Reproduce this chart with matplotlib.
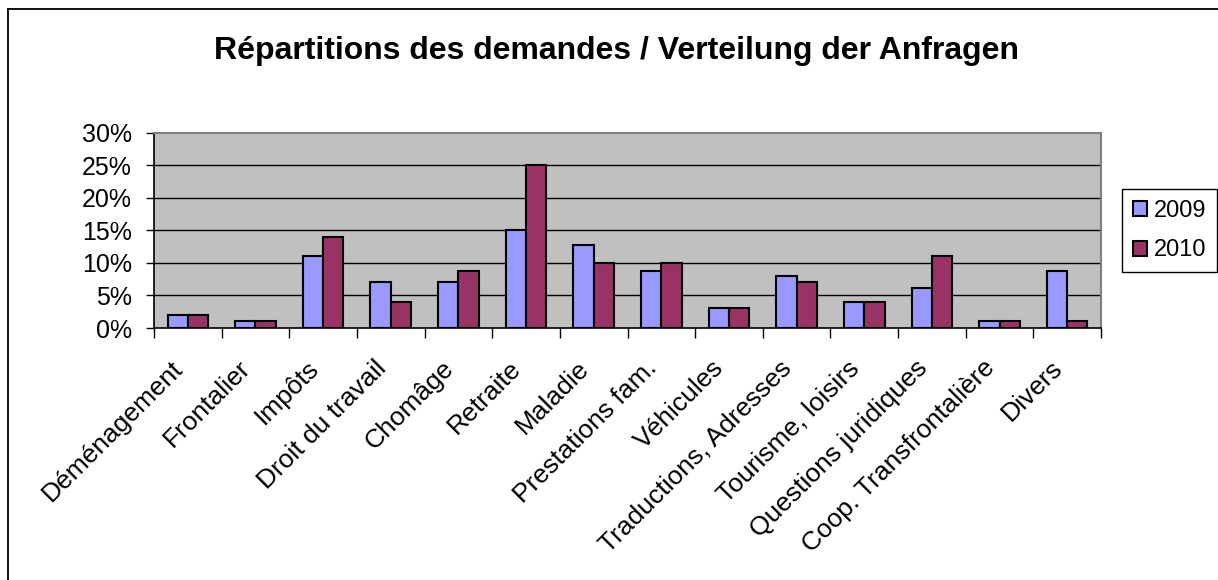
import matplotlib
matplotlib.use("Agg")
import matplotlib.pyplot as plt
import numpy as np
from matplotlib.lines import Line2D
from matplotlib.ticker import PercentFormatter, FixedLocator
from matplotlib.transforms import ScaledTranslation

categories = ["Déménagement", "Frontalier", "Impôts", "Droit du travail", "Chomâge",
              "Retraite", "Maladie", "Prestations fam.", "Véhicules",
              "Traductions, Adresses", "Tourisme, loisirs", "Questions juridiques",
              "Coop. Transfrontalière", "Divers"]
values_2009 = [2, 1, 11, 7, 7, 15, 12.8, 8.8, 3, 8, 4, 6.1, 1, 8.8]
values_2010 = [2, 1, 14, 4, 8.8, 25, 10, 10, 3, 7, 4, 11, 1, 1]
series_labels = ["2009", "2010"]
yticks = [0, 5, 10, 15, 20, 25, 30]

plt.rcParams['font.family'] = ['Liberation Sans', 'DejaVu Sans']

W, H = 1218, 580
fig = plt.figure(figsize=(W / 100, H / 100), dpi=100)
fig.patch.set_facecolor("white")

left, right, top, bottom = 154, 1101, 132.5, 328
ax = fig.add_axes([left / W, 1 - bottom / H, (right - left) / W, (bottom - top) / H])
ax.set_facecolor("#C0C0C0")

x = np.arange(len(categories))
bw = 0.3
ax.bar(x - bw / 2, values_2009, bw, color="#9999FF", edgecolor="black", linewidth=1.5,
       label=series_labels[0], zorder=3)
ax.bar(x + bw / 2, values_2010, bw, color="#993366", edgecolor="black", linewidth=1.5,
       label=series_labels[1], zorder=3)

ax.set_xlim(-0.5, len(categories) - 0.5)
ax.set_ylim(0, 30)
ax.set_yticks(yticks)
ax.yaxis.set_major_formatter(PercentFormatter(decimals=0))
ax.tick_params(axis="y", direction="out", length=6, width=1, pad=10, labelsize=18)
for yv in yticks[1:-1]:
    ax.axhline(yv, color="black", linewidth=1, zorder=1)

ax.xaxis.set_major_locator(FixedLocator(np.arange(-0.5, len(categories), 1.0)))
ax.xaxis.set_minor_locator(FixedLocator(x))
ax.set_xticklabels([], minor=False)
ax.set_xticklabels(categories, minor=True, rotation=45, ha="right", va="top",
                   rotation_mode="anchor", fontsize=19)
ax.tick_params(axis="x", which="major", direction="out", length=7, width=1)
ax.tick_params(axis="x", which="minor", length=0, pad=20)
offset = ScaledTranslation(-17 / 100, 0, fig.dpi_scale_trans)
for lab in ax.get_xticklabels(minor=True):
    lab.set_transform(lab.get_transform() + offset)

for s in ["left", "bottom"]:
    ax.spines[s].set_color("black")
    ax.spines[s].set_linewidth(1.2)
for s in ["top", "right"]:
    ax.spines[s].set_color("#808080")
    ax.spines[s].set_linewidth(1.5)

fig.text(617 / W, 1 - 51 / H, "Répartitions des demandes / Verteilung der Anfragen",
         ha="center", va="center", fontsize=23, fontweight="bold")

leg = fig.legend(loc="upper left", bbox_to_anchor=(1122 / W, 1 - 189 / H),
                 fontsize=17, frameon=True, fancybox=False, framealpha=1,
                 edgecolor="black", handlelength=0.6, handleheight=0.6,
                 handletextpad=0.3, borderpad=0.45, labelspacing=0.75, borderaxespad=0)
leg.get_frame().set_linewidth(1)

fig.add_artist(Line2D([8 / W, 8 / W], [0, 1 - 8.5 / H], transform=fig.transFigure,
                      color="black", linewidth=1.3))
fig.add_artist(Line2D([8 / W, 1], [1 - 8.5 / H, 1 - 8.5 / H], transform=fig.transFigure,
                      color="black", linewidth=1.3))

fig.savefig("out.png", dpi=100)
